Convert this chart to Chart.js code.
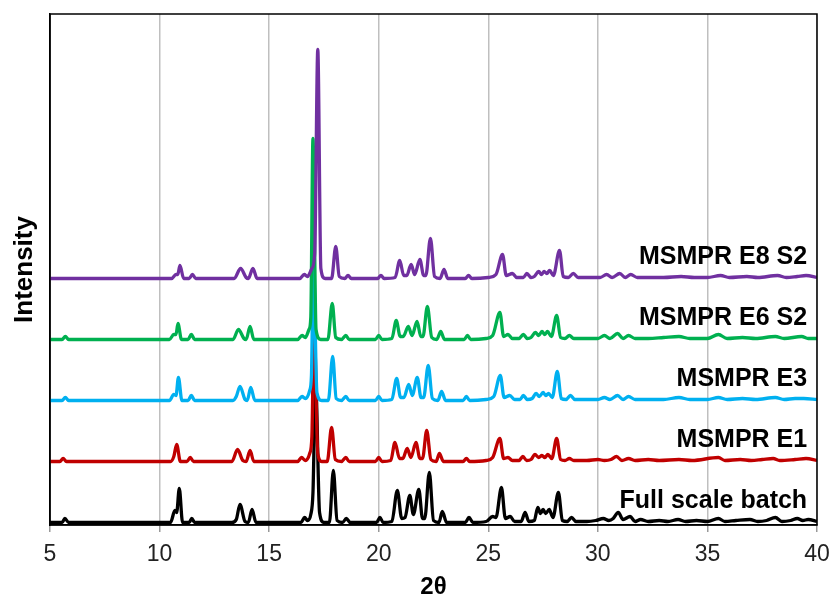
<!DOCTYPE html>
<html><head><meta charset="utf-8">
<script src="https://cdn.jsdelivr.net/npm/chart.js@4.4.1/dist/chart.umd.min.js"></script>
<style>html,body{margin:0;padding:0;background:#fff}</style>
</head><body>
<canvas id="c" width="835" height="606"></canvas>
<script>
// ---- data (2θ, intensity above own baseline, arbitrary units) ----
const seriesNames = ['MSMPR E8 S2','MSMPR E6 S2','MSMPR E3','MSMPR E1','Full scale batch'];
const seriesColors = ['#7030A0','#00B050','#00B0F0','#C00000','#000000'];
const stackOffsets = [246.5, 185.5, 124.5, 63.5, 2.5];
const xTicks = [5,10,15,20,25,30,35,40];

const e8s2 = [[5,0],[10.55,0],[10.75,4],[10.83,4],[10.93,13],[11.1,0],[11.35,0],[11.5,4],[11.65,0],[13.4,0],[13.7,10],[13.95,1],[14.05,0],[14.26,10],[14.45,0],[16.4,0],[16.6,4],[16.75,2],[16.95,10],[17.08,25],[17.22,229],[17.36,10],[17.55,0],[17.85,0],[18.04,32],[18.2,2],[18.45,0],[18.6,3],[18.75,0],[19.95,0],[20.1,3],[20.25,0],[20.75,1],[20.96,18],[21.14,3],[21.28,3],[21.48,14],[21.64,4],[21.88,19],[22.05,3],[22.15,3],[22.36,40],[22.55,2],[22.8,0],[22.98,9],[23.15,0],[23.95,0],[24.1,3],[24.25,0],[25.0,1],[25.35,4],[25.65,24],[25.82,3],[26.1,5],[26.3,1],[26.6,1],[26.76,5],[26.95,1],[27.1,2],[27.3,7],[27.43,4],[27.55,7],[27.67,5],[27.8,8],[27.97,3],[28.25,28],[28.42,2],[28.65,1],[28.88,5],[29.1,1],[29.6,1],[30.1,1],[30.4,4],[30.65,1],[31.0,5],[31.25,1],[31.5,4],[31.8,1],[32.5,1],[33.0,1],[33.8,2],[34.4,1],[35.0,1],[35.6,3],[36.0,1],[36.8,2],[37.3,1],[38.2,3],[38.6,1],[39.1,2],[39.5,3],[40,1]];

const e6s2 = [[5,0],[5.55,0],[5.7,3],[5.85,0],[10.45,0],[10.65,5],[10.75,5],[10.84,16],[11.0,0],[11.3,0],[11.45,5],[11.6,0],[13.35,0],[13.6,10],[13.85,1],[13.95,0],[14.13,13],[14.3,0],[16.3,0],[16.5,4],[16.65,2],[16.82,10],[16.9,22],[17.0,201],[17.14,10],[17.35,0],[17.68,0],[17.88,36],[18.04,2],[18.3,0],[18.5,4],[18.65,0],[19.85,0],[20.0,4],[20.15,0],[20.6,1],[20.8,19],[20.98,3],[21.12,3],[21.35,13],[21.52,4],[21.75,18],[21.92,3],[22.02,3],[22.22,33],[22.42,2],[22.65,0],[22.83,8],[23.0,0],[23.9,0],[24.05,4],[24.2,0],[24.9,1],[25.2,4],[25.53,27],[25.7,3],[25.9,5],[26.1,1],[26.4,1],[26.6,5],[26.78,1],[26.95,2],[27.15,7],[27.3,4],[27.45,8],[27.58,5],[27.7,8],[27.88,3],[28.12,24],[28.3,2],[28.5,1],[28.7,4],[28.9,1],[29.5,1],[30.0,1],[30.3,4],[30.55,1],[30.9,6],[31.15,1],[31.4,4],[31.7,1],[32.3,1],[33.0,2],[33.7,3],[34.2,1],[35.0,1],[35.5,5],[35.9,1],[36.6,2],[37.2,1],[38.1,3],[38.5,1],[39.3,3],[39.6,1],[40,1]];

const e3 = [[5,0],[5.55,0],[5.7,3],[5.85,0],[10.45,0],[10.65,6],[10.75,5],[10.86,23],[11.02,0],[11.3,0],[11.45,5],[11.6,0],[13.35,0],[13.5,4],[13.67,14],[13.9,1],[14.0,0],[14.16,13],[14.35,0],[16.3,0],[16.5,4],[16.65,2],[16.85,10],[16.93,25],[17.02,140],[17.18,8],[17.4,0],[17.7,0],[17.9,44],[18.06,2],[18.3,0],[18.5,4],[18.65,0],[19.85,0],[20.0,4],[20.15,0],[20.6,1],[20.82,22],[21.0,3],[21.15,3],[21.37,16],[21.53,5],[21.76,23],[21.93,3],[22.05,3],[22.26,35],[22.45,2],[22.7,0],[22.87,9],[23.05,0],[23.85,0],[24.0,4],[24.15,0],[24.9,1],[25.25,4],[25.55,25],[25.72,3],[25.98,5],[26.2,1],[26.45,1],[26.6,5],[26.78,1],[27.0,2],[27.18,7],[27.33,4],[27.5,8],[27.62,5],[27.75,7],[27.92,3],[28.15,29],[28.33,2],[28.55,1],[28.75,5],[28.95,1],[29.5,1],[30.0,1],[30.3,3],[30.55,1],[30.9,5],[31.15,1],[31.4,4],[31.7,1],[32.3,1],[33.0,1],[33.7,3],[34.2,1],[35.0,1],[35.5,3],[35.9,1],[36.6,2],[37.2,1],[38.1,3],[38.5,1],[39.0,2],[39.4,2],[40,1]];

const e1 = [[5,0],[5.45,0],[5.6,3],[5.75,0],[10.5,0],[10.65,5],[10.78,17],[10.95,0],[11.25,0],[11.4,4],[11.55,0],[13.3,0],[13.56,12],[13.8,1],[13.95,0],[14.13,11],[14.3,0],[16.3,0],[16.48,4],[16.65,1],[16.85,8],[16.95,25],[17.05,140],[17.22,8],[17.4,0],[17.65,0],[17.85,34],[18.02,2],[18.3,0],[18.5,4],[18.65,0],[19.85,0],[20.0,4],[20.15,0],[20.55,1],[20.74,19],[20.95,3],[21.1,3],[21.3,13],[21.47,4],[21.7,19],[21.88,3],[22.0,3],[22.19,31],[22.38,2],[22.62,0],[22.77,8],[22.95,0],[23.85,0],[24.0,3],[24.15,0],[24.9,1],[25.2,4],[25.53,23],[25.7,3],[25.9,4],[26.1,1],[26.4,1],[26.58,5],[26.75,1],[26.95,2],[27.13,7],[27.3,4],[27.45,6],[27.58,4],[27.72,7],[27.9,3],[28.12,23],[28.3,2],[28.5,1],[28.7,3],[28.9,1],[29.5,1],[30.0,2],[30.3,1],[30.6,2],[30.85,5],[31.1,1],[31.4,3],[31.7,1],[32.3,2],[32.8,1],[33.7,2],[34.3,1],[35.5,4],[35.8,1],[36.5,2],[37.0,1],[37.5,2],[38.0,3],[38.3,1],[39.0,2],[39.5,3],[40,1]];

const fullScale = [[5,0],[5.55,0],[5.68,4],[5.85,0],[10.5,0],[10.7,12],[10.78,10],[10.9,34],[11.05,0],[11.35,0],[11.47,4],[11.6,0],[13.3,0],[13.5,3],[13.67,18],[13.9,1],[14.05,0],[14.22,13],[14.4,0],[16.45,0],[16.62,5],[16.75,2],[16.9,8],[17.0,30],[17.12,140],[17.3,10],[17.5,0],[17.75,0],[17.93,52],[18.1,2],[18.35,0],[18.52,4],[18.7,0],[19.9,0],[20.06,5],[20.2,0],[20.6,1],[20.85,32],[21.05,4],[21.2,5],[21.42,27],[21.58,8],[21.83,33],[22.0,4],[22.1,4],[22.31,50],[22.5,2],[22.75,0],[22.9,11],[23.1,0],[23.95,0],[24.12,5],[24.3,0],[24.9,1],[25.2,6],[25.35,5],[25.6,35],[25.78,4],[26.0,6],[26.2,1],[26.5,1],[26.68,10],[26.85,1],[27.1,2],[27.26,15],[27.38,9],[27.5,13],[27.62,9],[27.78,13],[27.95,5],[28.2,30],[28.38,2],[28.6,1],[28.8,5],[29.0,1],[29.5,1],[29.9,2],[30.25,4],[30.5,2],[30.7,4],[30.93,10],[31.15,3],[31.47,6],[31.7,1],[31.95,3],[32.3,1],[32.8,2],[33.2,1],[33.66,3],[34.0,1],[34.5,2],[35.0,1],[35.5,4],[35.8,1],[36.3,2],[36.94,3],[37.3,1],[37.7,2],[38.1,5],[38.4,1],[38.8,2],[39.1,4],[39.35,2],[39.6,3],[40,1]];

const seriesData = [e8s2, e6s2, e3, e1, fullScale];
const labelX = 39.55;     // 2θ position of right edge of series labels
const labelRise = 15;     // label baseline above trace baseline

Chart.defaults.font.family = '"Liberation Sans", Arial, sans-serif';

const datasets = seriesData.map((pts, i) => ({
  label: seriesNames[i],
  data: pts.map(([t, v]) => ({x: t, y: v + stackOffsets[i]})),
  borderColor: seriesColors[i],
  backgroundColor: seriesColors[i],
  borderWidth: 3.3,
  pointRadius: 0,
  cubicInterpolationMode: 'monotone',
  fill: false
}));

const overlay = {
  id: 'overlay',
  afterDraw(chart) {
    const {ctx, chartArea: a, scales: {x, y}} = chart;
    ctx.save();
    ctx.strokeStyle = '#000';
    ctx.lineWidth = 1.5;
    ctx.strokeRect(a.left, a.top, a.right - a.left, a.bottom - a.top);
    ctx.font = 'bold 25px "Liberation Sans", Arial, sans-serif';
    ctx.textAlign = 'right';
    ctx.textBaseline = 'alphabetic';
    ctx.fillStyle = '#000';
    seriesNames.forEach((n, i) => {
      ctx.fillText(n, x.getPixelForValue(labelX), y.getPixelForValue(stackOffsets[i] + labelRise));
    });
    ctx.restore();
  }
};

new Chart(document.getElementById('c'), {
  type: 'line',
  data: {datasets},
  options: {
    responsive: false,
    animation: false,
    events: [],
    layout: {padding: {left: 0, right: 18, top: 14, bottom: 0}},
    plugins: {legend: {display: false}, tooltip: {enabled: false}},
    scales: {
      x: {
        type: 'linear', min: 5, max: 40,
        afterBuildTicks(s) { s.ticks = xTicks.map(v => ({value: v})); },
        ticks: {color: '#222', font: {size: 23, lineHeight: 1.55}, padding: 5, maxRotation: 0},
        grid: {color: '#BFBFBF', lineWidth: 1.5, tickLength: 7, tickColor: '#999', drawTicks: true},
        border: {display: true, color: '#000', width: 1.5},
        title: {display: true, text: '2θ', color: '#000', font: {size: 24, weight: 'bold'}, padding: {top: 0, bottom: 4}},
        afterFit(s) { s.height = 81; }
      },
      y: {
        min: 0, max: 511,
        ticks: {display: false},
        grid: {display: false},
        border: {display: true, color: '#000', width: 1.5},
        title: {display: true, text: 'Intensity', color: '#000', font: {size: 26, weight: 'bold'}, padding: {top: 9, bottom: 0}},
        afterFit(s) { s.width = 50; }
      }
    }
  },
  plugins: [overlay]
});
</script>
</body></html>
